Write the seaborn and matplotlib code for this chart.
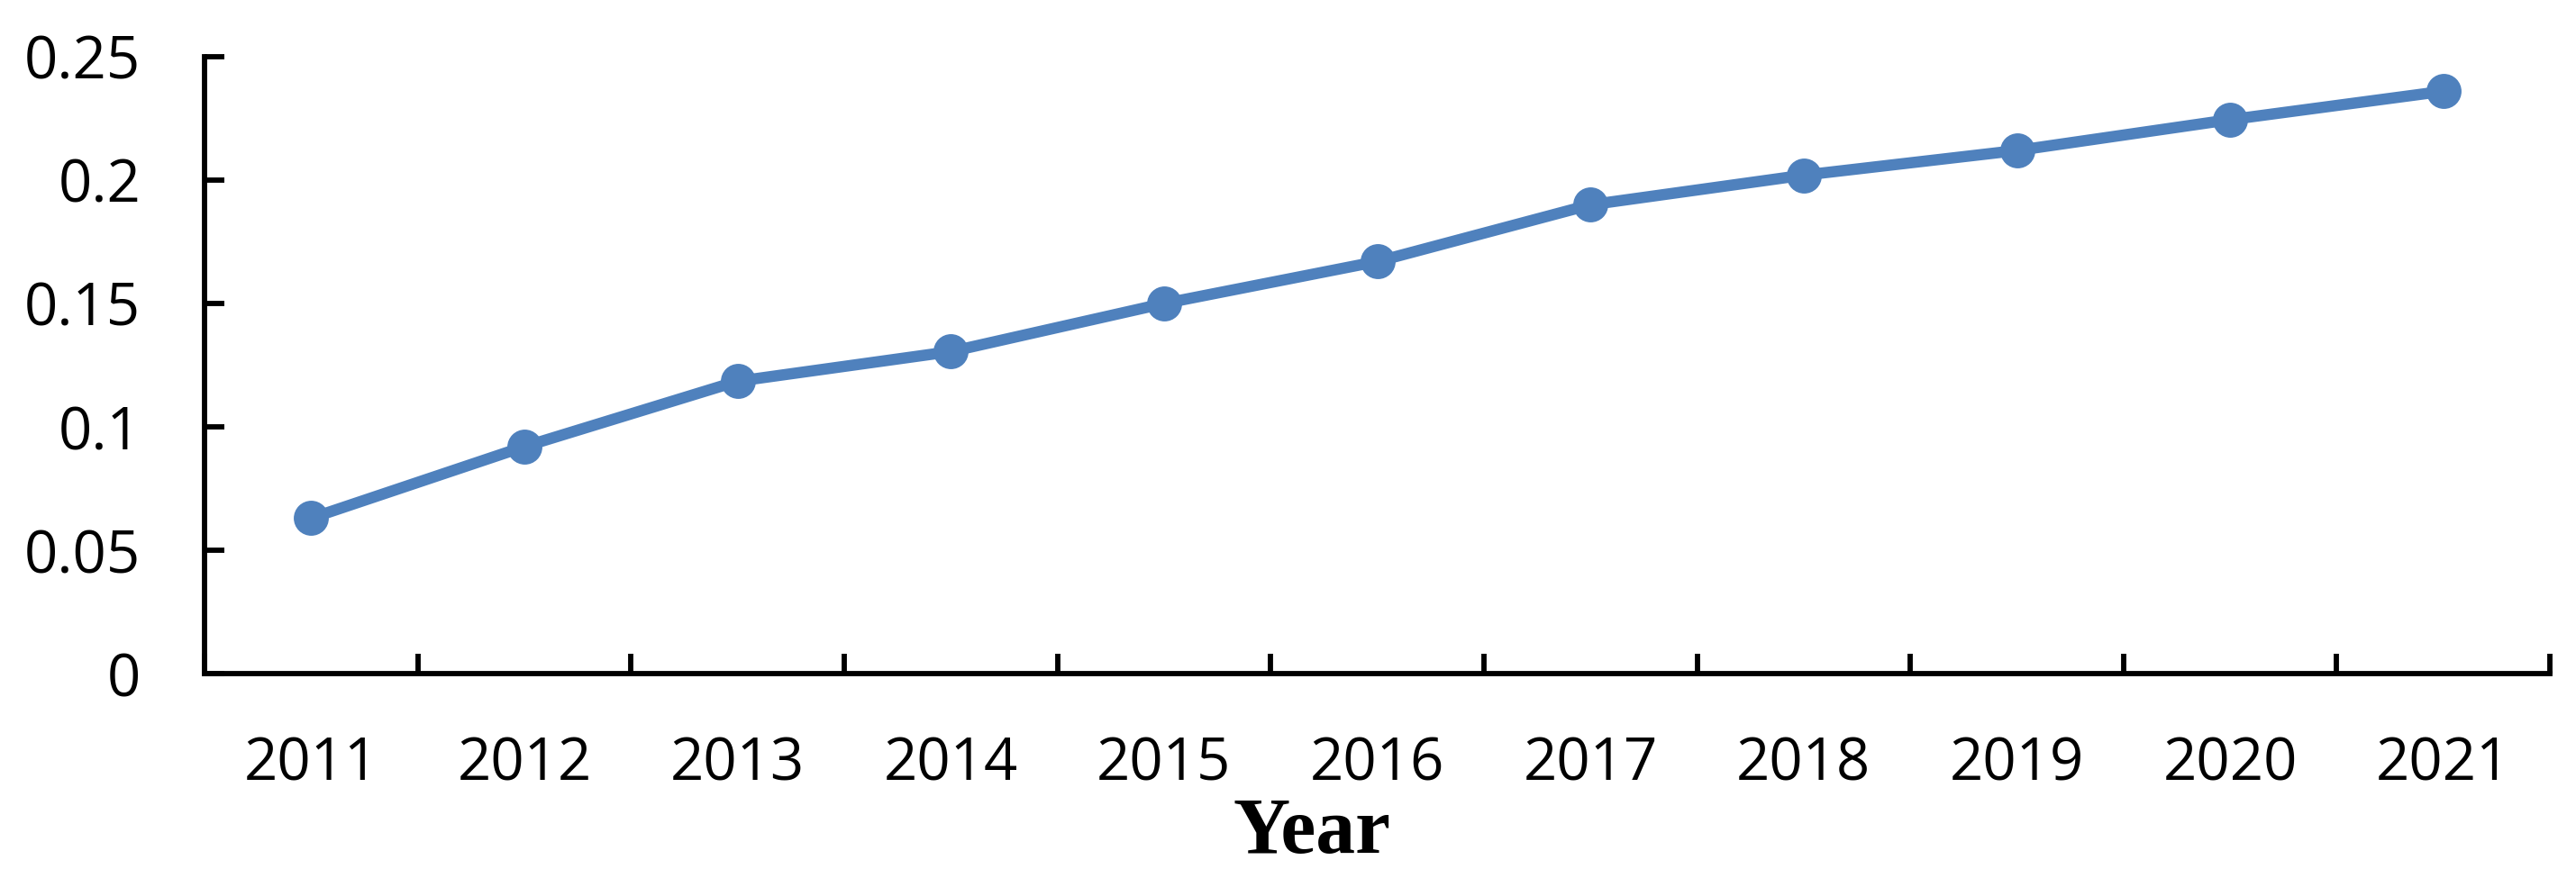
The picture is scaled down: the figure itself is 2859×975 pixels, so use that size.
import matplotlib
matplotlib.use("Agg")
import matplotlib.pyplot as plt
import seaborn as sns
import pandas as pd
from matplotlib.ticker import FixedLocator

# data
years = ["2011", "2012", "2013", "2014", "2015", "2016",
         "2017", "2018", "2019", "2020", "2021"]
values = [0.063, 0.092, 0.1185, 0.1305, 0.150, 0.167,
          0.190, 0.202, 0.212, 0.2245, 0.236]
y_ticks = [0, 0.05, 0.1, 0.15, 0.2, 0.25]
y_tick_labels = ["0", "0.05", "0.1", "0.15", "0.2", "0.25"]

df = pd.DataFrame({"year": years, "value": values})

sns.set_style("white")
plt.rcParams['font.family'] = ['Open Sans', 'DejaVu Sans']

fig = plt.figure(figsize=(28.59, 9.75), dpi=100)
ax = fig.add_axes([0.0794, 0.2328, 0.9105, 0.7026])

sns.lineplot(data=df, x="year", y="value", ax=ax, sort=False,
             color="#4F81BD", linewidth=9, marker="o",
             markersize=28, markeredgewidth=0)

ax.set_xlim(-0.5, len(years) - 0.5)
ax.set_ylim(0, 0.25)

# category labels centred, tick marks on the boundaries
ax.set_xticks(range(len(years)))
ax.set_xticklabels(years)
ax.xaxis.set_minor_locator(FixedLocator([i - 0.5 for i in range(len(years) + 1)]))
ax.tick_params(axis="x", which="major", length=0, pad=49, labelsize=47,
               labelcolor="black")
ax.tick_params(axis="x", which="minor", direction="in", length=16, width=4.2,
               color="black", bottom=True)

ax.set_yticks(y_ticks)
ax.set_yticklabels(y_tick_labels)
ax.tick_params(axis="y", direction="in", length=16, width=4.2, color="black",
               pad=51, labelsize=47, labelcolor="black", left=True)

for side in ["top", "right"]:
    ax.spines[side].set_visible(False)
for side in ["left", "bottom"]:
    ax.spines[side].set_color("black")
    ax.spines[side].set_linewidth(4.2)

ax.set_xlabel("Year", family="Liberation Serif", fontweight="bold",
              fontsize=63, color="black", va="baseline")
ax.xaxis.set_label_coords(0.4721, -0.2905)
ax.set_ylabel("")

fig.savefig("out.png", dpi=100, facecolor="white")
